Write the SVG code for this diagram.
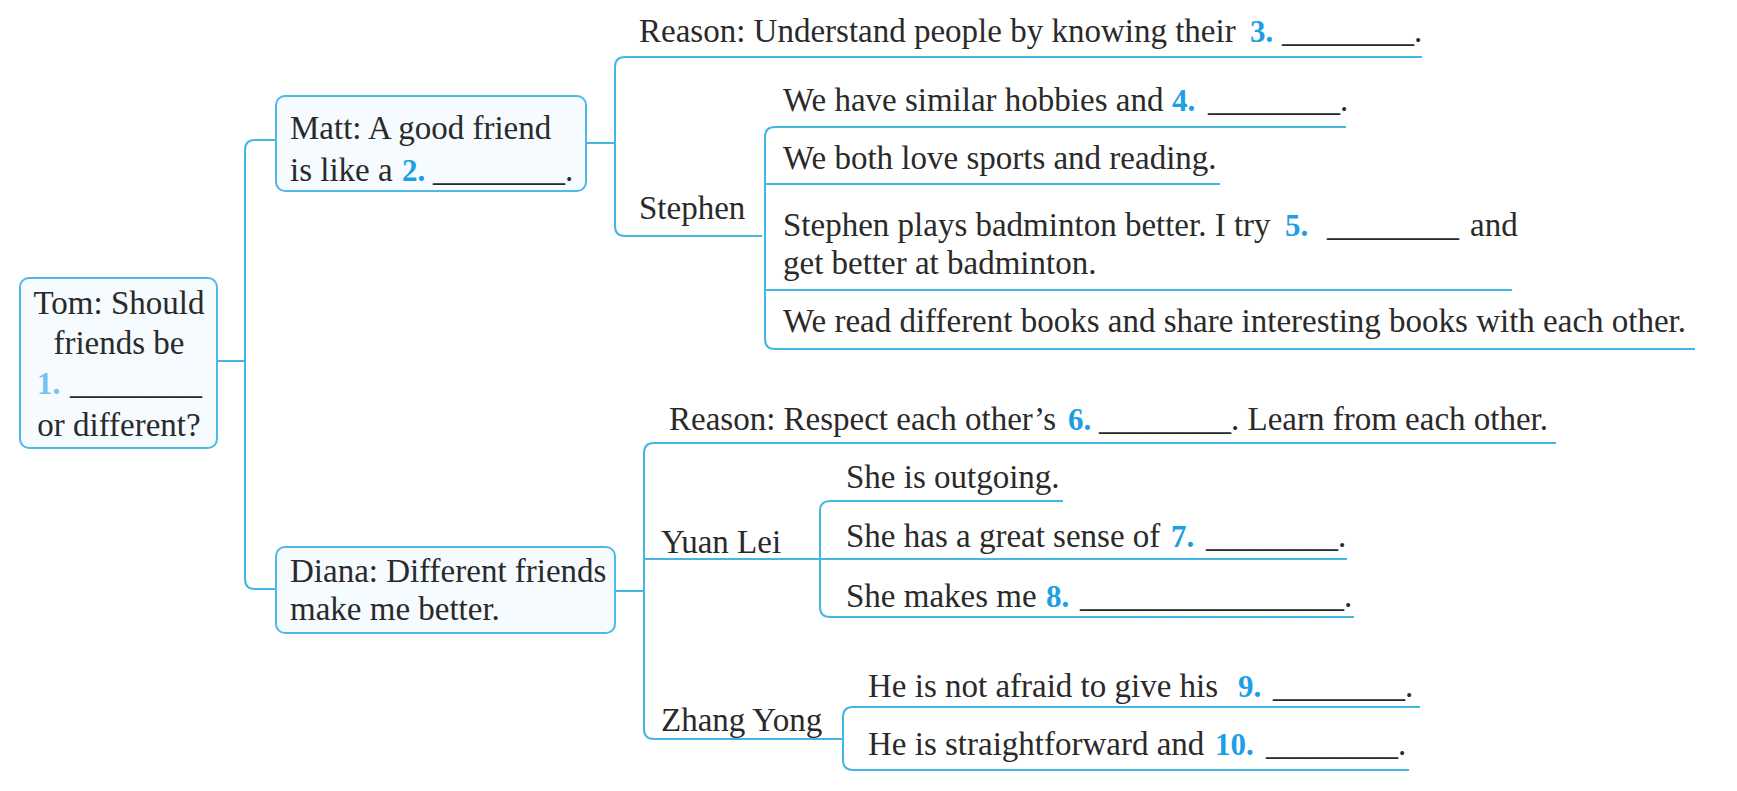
<svg xmlns="http://www.w3.org/2000/svg" width="1737" height="791" viewBox="0 0 1737 791">
<style>
.t{font-family:"Liberation Serif","Times New Roman",serif;font-size:33px;fill:#2a2a2a}
.n{font-family:"Liberation Serif","Times New Roman",serif;font-size:31px;font-weight:bold;fill:#1e9fe3}
.n1{fill:#74c4ee}
.box{fill:#f5fbfe;stroke:#4fb9e6;stroke-width:2}
.ln{fill:none;stroke:#45b5e3;stroke-width:2}
</style>
<rect width="1737" height="791" fill="#ffffff"/>
<g id="connectors">
<path class="ln" d="M217 361 H245"/>
<path class="ln" d="M276 140 H255 Q245 140 245 150 V579 Q245 589 255 589 H276"/>
<path class="ln" d="M586 143 H615"/>
<path class="ln" d="M762 236 H625 Q615 236 615 226 V67 Q615 57 625 57 H1422"/>
<path class="ln" d="M1346 127 H775 Q765 127 765 137 V339 Q765 349 775 349 H1695"/>
<path class="ln" d="M765 184 H1220"/>
<path class="ln" d="M765 290 H1512"/>
<path class="ln" d="M615 591 H644"/>
<path class="ln" d="M1556 443 H654 Q644 443 644 453 V729 Q644 739 654 739 H843"/>
<path class="ln" d="M644 559 H820"/>
<path class="ln" d="M1063 501 H830 Q820 501 820 511 V607 Q820 617 830 617 H1354"/>
<path class="ln" d="M820 559 H1347"/>
<path class="ln" d="M1420 707 H853 Q843 707 843 717 V760 Q843 770 853 770 H1409"/>
</g>
<g id="tom">
<rect class="box" x="20" y="278" width="197" height="170" rx="9"/>
<text class="t" x="119" y="314" text-anchor="middle">Tom: Should</text>
<text class="t" x="119" y="354" text-anchor="middle">friends be</text>
<text class="t" y="394"><tspan class="n n1" x="37">1.</tspan><tspan x="70">________</tspan></text>
<text class="t" x="119" y="436" text-anchor="middle">or different?</text>
</g>
<g id="matt">
<rect class="box" x="276" y="96" width="310" height="95" rx="9"/>
<text class="t" x="290" y="139">Matt: A good friend</text>
<text class="t" y="181"><tspan x="290">is like a </tspan><tspan class="n" x="402">2.</tspan><tspan x="433">________.</tspan></text>
</g>
<g id="reason1">
<text class="t" y="42"><tspan x="639">Reason: Understand people by knowing their </tspan><tspan class="n" x="1250">3.</tspan><tspan x="1282">________.</tspan></text>
</g>
<g id="stephen">
<text class="t" x="639" y="219">Stephen</text>
</g>
<g id="s1">
<text class="t" y="111"><tspan x="783">We have similar hobbies and </tspan><tspan class="n" x="1172">4.</tspan><tspan x="1208">________.</tspan></text>
</g>
<g id="s2">
<text class="t" x="783" y="169">We both love sports and reading.</text>
</g>
<g id="s3">
<text class="t" y="236"><tspan x="783">Stephen plays badminton better. I try </tspan><tspan class="n" x="1285">5.</tspan><tspan x="1327">________</tspan><tspan x="1470">and</tspan></text>
<text class="t" x="783" y="274">get better at badminton.</text>
</g>
<g id="s4">
<text class="t" x="783" y="332">We read different books and share interesting books with each other.</text>
</g>
<g id="diana">
<rect class="box" x="276" y="547" width="339" height="86" rx="9"/>
<text class="t" x="290" y="582">Diana: Different friends</text>
<text class="t" x="290" y="620">make me better.</text>
</g>
<g id="reason2">
<text class="t" y="430"><tspan x="669">Reason: Respect each other’s </tspan><tspan class="n" x="1068">6.</tspan><tspan x="1099">________. Learn from each other.</tspan></text>
</g>
<g id="yuanlei">
<text class="t" x="661" y="553">Yuan Lei</text>
</g>
<g id="y1">
<text class="t" x="846" y="488">She is outgoing.</text>
</g>
<g id="y2">
<text class="t" y="547"><tspan x="846">She has a great sense of </tspan><tspan class="n" x="1171">7.</tspan><tspan x="1206">________.</tspan></text>
</g>
<g id="y3">
<text class="t" y="607"><tspan x="846">She makes me </tspan><tspan class="n" x="1046">8.</tspan><tspan x="1080">________________.</tspan></text>
</g>
<g id="zhangyong">
<text class="t" x="661" y="731">Zhang Yong</text>
</g>
<g id="z1">
<text class="t" y="697"><tspan x="868">He is not afraid to give his </tspan><tspan class="n" x="1238">9.</tspan><tspan x="1273">________.</tspan></text>
</g>
<g id="z2">
<text class="t" y="755"><tspan x="868">He is straightforward and </tspan><tspan class="n" x="1215">10.</tspan><tspan x="1266">________.</tspan></text>
</g>
</svg>
